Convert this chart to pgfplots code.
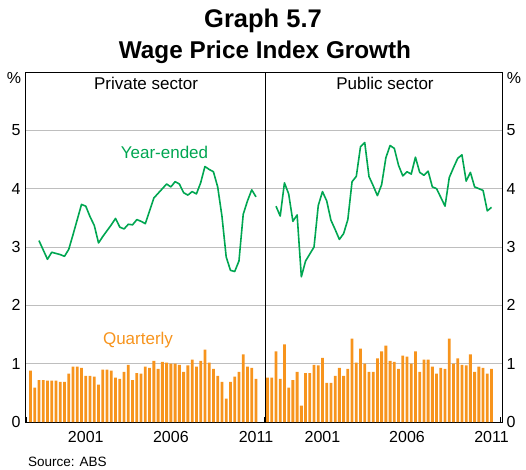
\documentclass[border=0pt]{standalone}
\usepackage{fontspec}
\setmainfont{Liberation Sans}
\usepackage{pgfplots}
\usepackage{pgfplotstable}
\pgfplotsset{compat=1.18}
\definecolor{rbaorange}{RGB}{247,148,29}
\definecolor{rbagreen}{RGB}{0,166,81}
\definecolor{gridgray}{RGB}{190,190,190}

% quarterly percentage change: x = quarter end
\pgfplotstableread{
x priv pub
1998.25 0.88 0.76
1998.50 0.59 0.76
1998.75 0.72 1.21
1999.00 0.72 0.74
1999.25 0.71 1.33
1999.50 0.71 0.59
1999.75 0.71 0.72
2000.00 0.69 0.86
2000.25 0.69 0.28
2000.50 0.83 0.84
2000.75 0.95 0.84
2001.00 0.95 0.98
2001.25 0.93 0.97
2001.50 0.79 1.10
2001.75 0.79 0.67
2002.00 0.78 0.67
2002.25 0.64 0.79
2002.50 0.90 0.93
2002.75 0.90 0.79
2003.00 0.88 0.91
2003.25 0.76 1.43
2003.50 0.74 1.02
2003.75 0.86 1.26
2004.00 0.98 1.00
2004.25 0.72 0.86
2004.50 0.84 0.86
2004.75 0.83 1.09
2005.00 0.95 1.21
2005.25 0.93 1.31
2005.50 1.05 1.05
2005.75 0.91 1.03
2006.00 1.03 0.91
2006.25 1.02 1.14
2006.50 1.00 1.12
2006.75 1.00 1.00
2007.00 0.98 1.21
2007.25 0.86 0.86
2007.50 0.97 1.07
2007.75 1.07 1.07
2008.00 0.95 0.95
2008.25 1.05 0.83
2008.50 1.24 0.93
2008.75 1.02 0.91
2009.00 0.91 1.43
2009.25 0.79 1.00
2009.50 0.69 1.09
2009.75 0.40 0.98
2010.00 0.69 0.97
2010.25 0.78 1.16
2010.50 0.86 0.86
2010.75 1.16 0.95
2011.00 0.95 0.93
2011.25 0.93 0.83
2011.50 0.74 0.91
}\quarterly

% year-ended growth
\pgfplotstableread{
x priv pub
1998.75 3.11 3.70
1999.00 2.95 3.53
1999.25 2.79 4.10
1999.50 2.91 3.91
1999.75 2.89 3.44
2000.00 2.87 3.55
2000.25 2.84 2.49
2000.50 2.96 2.76
2000.75 3.21 2.88
2001.00 3.47 3.00
2001.25 3.73 3.71
2001.50 3.70 3.95
2001.75 3.52 3.79
2002.00 3.37 3.46
2002.25 3.07 3.30
2002.50 3.18 3.13
2002.75 3.28 3.23
2003.00 3.38 3.47
2003.25 3.49 4.12
2003.50 3.34 4.21
2003.75 3.31 4.72
2004.00 3.39 4.79
2004.25 3.38 4.21
2004.50 3.47 4.05
2004.75 3.44 3.88
2005.00 3.40 4.07
2005.25 3.62 4.53
2005.50 3.84 4.74
2005.75 3.92 4.69
2006.00 4.00 4.40
2006.25 4.08 4.22
2006.50 4.03 4.29
2006.75 4.12 4.25
2007.00 4.08 4.54
2007.25 3.93 4.28
2007.50 3.89 4.23
2007.75 3.95 4.30
2008.00 3.91 4.03
2008.25 4.10 4.00
2008.50 4.38 3.85
2008.75 4.33 3.70
2009.00 4.29 4.19
2009.25 4.03 4.36
2009.50 3.53 4.52
2009.75 2.83 4.58
2010.00 2.60 4.13
2010.25 2.58 4.28
2010.50 2.76 4.03
2010.75 3.56 4.00
2011.00 3.79 3.97
2011.25 3.98 3.62
2011.50 3.86 3.68
}\yearended

\pgfplotsset{
  panel/.style={
    scale only axis,
    height=350pt,
    ymin=0, ymax=6,
    ytick={0,1,2,3,4,5},
    ymajorgrids,
    grid style={gridgray, line width=0.9pt},
    axis line style={black, line width=0.9pt},
    xtick={2001.5,2006.5,2011.5},
    xticklabels={2001,2006,2011},
    minor xtick={1998,1999,...,2012},
    major tick length=0pt,
    minor tick length=5pt,
    minor tick style={black, line width=0.7pt},
    tick align=inside,
    xtick pos=lower,
    tick label style={font=\fontsize{16}{19}\selectfont},
    xticklabel style={yshift=-6pt},
    /pgf/number format/assume math mode=true,
    clip=false,
  },
  qbar/.style={ybar, bar width=2.8pt, fill=rbaorange, draw=none, bar shift=0pt},
  yeline/.style={rbagreen, line width=1.6pt, line join=round, no marks},
}

\begin{document}
\begin{tikzpicture}[x=1pt,y=1pt]
\useasboundingbox (0,0) rectangle (526,469);

\begin{axis}[panel, at={(25pt,47pt)}, anchor=south west, width=240pt,
  xmin=1997.93, xmax=2012.03,
  ytick pos=left, yticklabel style={xshift=-1pt}]
  \addplot[qbar] table[x=x, y=priv] {\quarterly};
  \addplot[yeline] table[x=x, y=priv] {\yearended};
\end{axis}

\begin{axis}[panel, at={(265pt,47pt)}, anchor=south west, width=237pt,
  xmin=1998.10, xmax=2012.12,
  ytick pos=right, yticklabel pos=right, yticklabel style={xshift=1pt}]
  \addplot[qbar] table[x=x, y=pub] {\quarterly};
  \addplot[yeline] table[x=x, y=pub] {\yearended};
\end{axis}

% titles
\node[anchor=base] at (263,441) {\fontsize{25.5}{30}\selectfont\bfseries Graph 5.7};
\node[anchor=base] at (265,410) {\fontsize{24.3}{28}\selectfont\bfseries Wage Price Index Growth};
% panel titles
\node[anchor=base] at (146,379) {\fontsize{17}{20}\selectfont Private sector};
\node[anchor=base] at (385,379) {\fontsize{17}{20}\selectfont Public sector};
% units
\node at (14,391) {\fontsize{16}{19}\selectfont \%};
\node at (514,391) {\fontsize{16}{19}\selectfont \%};
% series labels
\node[text=rbagreen] at (164.5,317) {\fontsize{17}{20}\selectfont Year-ended};
\node[text=rbaorange] at (138,129) {\fontsize{17}{20}\selectfont Quarterly};
% source
\node[anchor=base west, inner sep=0pt] at (28,3) {\fontsize{13.5}{16}\selectfont Source: ABS};
\end{tikzpicture}
\end{document}
